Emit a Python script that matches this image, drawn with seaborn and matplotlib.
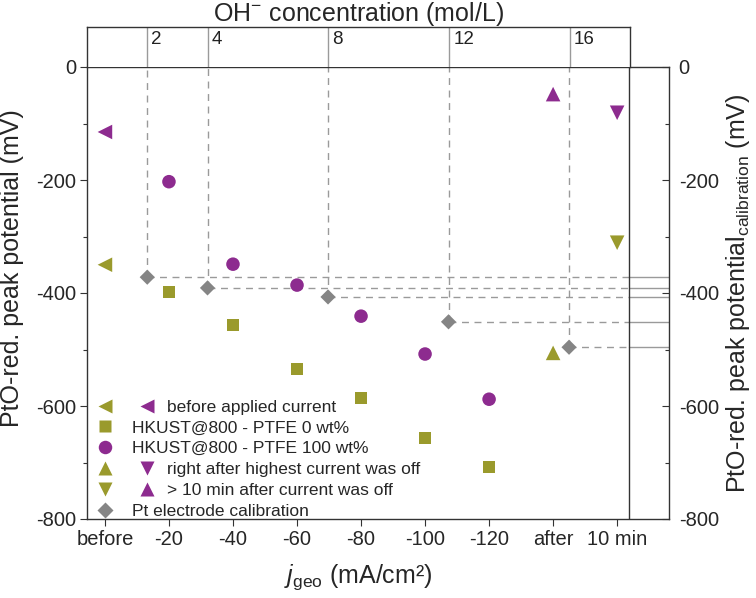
"""PtO reduction peak potential vs. current density, with OH- concentration calibration."""

import numpy as np
import matplotlib
matplotlib.use("Agg")
import matplotlib.pyplot as plt
from matplotlib.lines import Line2D
from matplotlib.legend_handler import HandlerTuple
import seaborn as sns

sns.set_theme(style="ticks")
plt.rcParams["font.family"] = ["Liberation Sans", "DejaVu Sans"]
plt.rcParams["mathtext.fontset"] = "custom"
plt.rcParams["mathtext.rm"] = "Liberation Sans"
plt.rcParams["mathtext.it"] = "Liberation Sans:italic"
plt.rcParams["axes.unicode_minus"] = False

# ---------------------------------------------------------------------------
# Data
# ---------------------------------------------------------------------------
categories = ["before", "-20", "-40", "-60", "-80", "-100", "-120", "after", "10 min"]
current_labels = ["-20", "-40", "-60", "-80", "-100", "-120"]

ptfe0 = [-398, -457, -535, -586, -657, -708]      # squares
ptfe100 = [-203, -349, -386, -441, -508, -588]    # circles

before_olive, before_purple = -350, -115
after_olive, after_purple = -506, -48             # up triangles
tenmin_olive, tenmin_purple = -311, -81           # down triangles

oh_conc = [2, 4, 8, 12, 16]                       # mol/L
calib = [-372, -391, -407, -451, -496]            # mV

OLIVE = "#9a9a2c"
PURPLE = "#8d2b8f"
GRAY = "#858585"
LGRAY = "#9a9a9a"
LINE = "#333333"

# axis geometry (category index units)
X_LO, X_FRAME, X_HI = -0.28, 8.19, 8.81
C_MAX = 18.0


def conc_to_x(c):
    return X_LO + np.asarray(c, dtype=float) / C_MAX * (X_FRAME - X_LO)


pos = {c: i for i, c in enumerate(categories)}
cur_x = [pos[c] for c in current_labels]
calib_x = conc_to_x(oh_conc)

fig = plt.figure(figsize=(7.56, 5.98), dpi=100)
W, H = 756, 598
ax = fig.add_axes([87 / W, 1 - 519 / H, (669 - 87) / W, (519 - 67) / H])
ax_top = fig.add_axes([87 / W, 1 - 67 / H, (630 - 87) / W, 40 / H])

FS = 12.5      # legend
TS = 14.5      # tick labels
LS = 18        # axis labels
MS = dict(edgecolor="none", legend=False, ax=ax, zorder=5)

# calibration guide lines
for cx, cv in zip(calib_x, calib):
    ax.plot([cx, cx], [cv, 0], ls=(0, (5, 4)), color=LGRAY, lw=1.0, zorder=2)
    ax.plot([cx, X_FRAME], [cv, cv], ls=(0, (5, 4)), color=LGRAY, lw=1.0, zorder=2)
    ax.plot([X_FRAME, X_HI], [cv, cv], ls="-", color=LGRAY, lw=1.0, zorder=2)
ax.axvline(X_FRAME, color=LINE, lw=1.0, zorder=3)

sns.scatterplot(x=cur_x, y=ptfe0, marker="s", color=OLIVE, s=80, **MS)
sns.scatterplot(x=cur_x, y=ptfe100, marker="o", color=PURPLE, s=95, **MS)
sns.scatterplot(x=[pos["before"]], y=[before_olive], marker="<", color=OLIVE, s=110, **MS)
sns.scatterplot(x=[pos["before"]], y=[before_purple], marker="<", color=PURPLE, s=110, **MS)
sns.scatterplot(x=[pos["after"]], y=[after_olive], marker="^", color=OLIVE, s=110, **MS)
sns.scatterplot(x=[pos["after"]], y=[after_purple], marker="^", color=PURPLE, s=110, **MS)
sns.scatterplot(x=[pos["10 min"]], y=[tenmin_olive], marker="v", color=OLIVE, s=110, **MS)
sns.scatterplot(x=[pos["10 min"]], y=[tenmin_purple], marker="v", color=PURPLE, s=110, **MS)
sns.scatterplot(x=calib_x, y=calib, marker="D", color=GRAY, s=60, **MS)

ax.set_xlim(X_LO, X_HI)
ax.set_ylim(-800, 0)
ax.set_xticks(range(len(categories)))
ax.set_xticklabels(categories)
ax.set_yticks(np.arange(-800, 1, 200))
ax.set_yticks(np.arange(-800, 1, 100), minor=True)
ax.tick_params(axis="both", which="major", direction="out", length=5, width=0.8,
               labelsize=TS, color=LINE, pad=3, right=False)
ax.tick_params(axis="y", which="minor", direction="out", length=3, width=0.8,
               color=LINE, right=False)
ax.tick_params(axis="x", which="minor", bottom=False)
for s in ax.spines.values():
    s.set_color(LINE)
    s.set_linewidth(1.0)

ax.set_ylabel("PtO-red. peak potential (mV)", fontsize=LS)
ax.yaxis.set_label_coords(-0.108, 0.555)
ax.set_xlabel(r"$j_\mathrm{geo}$ (mA/cm²)", fontsize=LS)
ax.xaxis.set_label_coords((358 - 87) / (669 - 87), -0.095)

# right axis
ax2 = ax.twinx()
ax2.set_ylim(-800, 0)
ax2.set_yticks(np.arange(-800, 1, 200))
ax2.set_yticks(np.arange(-800, 1, 100), minor=True)
ax2.tick_params(axis="y", which="major", direction="in", length=5, width=0.8,
                labelsize=TS, color=LINE, pad=7)
ax2.tick_params(axis="y", which="minor", direction="in", length=3, width=0.8, color=LINE)
for s in ax2.spines.values():
    s.set_visible(False)
ax2.set_ylabel(r"PtO-red. peak potential$_\mathrm{calibration}$ (mV)",
               fontsize=LS, rotation=90, labelpad=4)

# top concentration axis
ax_top.set_xlim(0, C_MAX)
ax_top.set_ylim(0, 1)
ax_top.set_xticks([])
ax_top.set_yticks([])
for c in oh_conc:
    ax_top.axvline(c, color=LGRAY, lw=1.0)
    ax_top.annotate(str(c), xy=(c, 1), xycoords=("data", "axes fraction"),
                    xytext=(3, -3), textcoords="offset points",
                    ha="left", va="top", fontsize=13.5, color="#222222")
ax_top.spines["bottom"].set_visible(False)
for s in ["left", "top", "right"]:
    ax_top.spines[s].set_color(LINE)
    ax_top.spines[s].set_linewidth(1.0)
ax_top.xaxis.set_label_position("top")
ax_top.set_xlabel(r"OH$^{-}$ concentration (mol/L)", fontsize=LS, labelpad=4)

# legend: two overlaid legends so that single and paired markers sit like the original
blank = Line2D([], [], linestyle="none", marker="")


def mk(marker, color, ms):
    return Line2D([], [], linestyle="none", marker=marker, color=color,
                  markeredgecolor="none", markersize=ms)


single_handles = [blank, mk("s", OLIVE, 8.9), mk("o", PURPLE, 9.7), blank, blank, mk("D", GRAY, 7.7)]
single_labels = [" ", "HKUST@800 - PTFE 0 wt%", "HKUST@800 - PTFE 100 wt%", " ", " ",
                 "Pt electrode calibration"]
pair_handles = [(mk("<", OLIVE, 10.5), mk("<", PURPLE, 10.5)), blank, blank,
                (mk("^", OLIVE, 10.5), mk("v", PURPLE, 10.5)),
                (mk("v", OLIVE, 10.5), mk("^", PURPLE, 10.5)), blank]
pair_labels = ["before applied current", " ", " ", "right after highest current was off",
               "> 10 min after current was off", " "]

anchor = ((96.3 - 87) / (669 - 87), 0.0)
common = dict(loc="lower left", bbox_to_anchor=anchor, borderaxespad=0, borderpad=0,
              frameon=False, fontsize=FS, labelspacing=0.33, handleheight=0.7)
leg1 = ax.legend(single_handles, single_labels, handlelength=1.0, handletextpad=1.05, **common)
ax.add_artist(leg1)
leg2 = ax.legend(pair_handles, pair_labels, handlelength=3.42, handletextpad=0.65,
                 handler_map={tuple: HandlerTuple(ndivide=None, pad=1.417)}, **common)
leg1.set_zorder(6)
leg2.set_zorder(6)

fig.savefig("out.png", dpi=100)
